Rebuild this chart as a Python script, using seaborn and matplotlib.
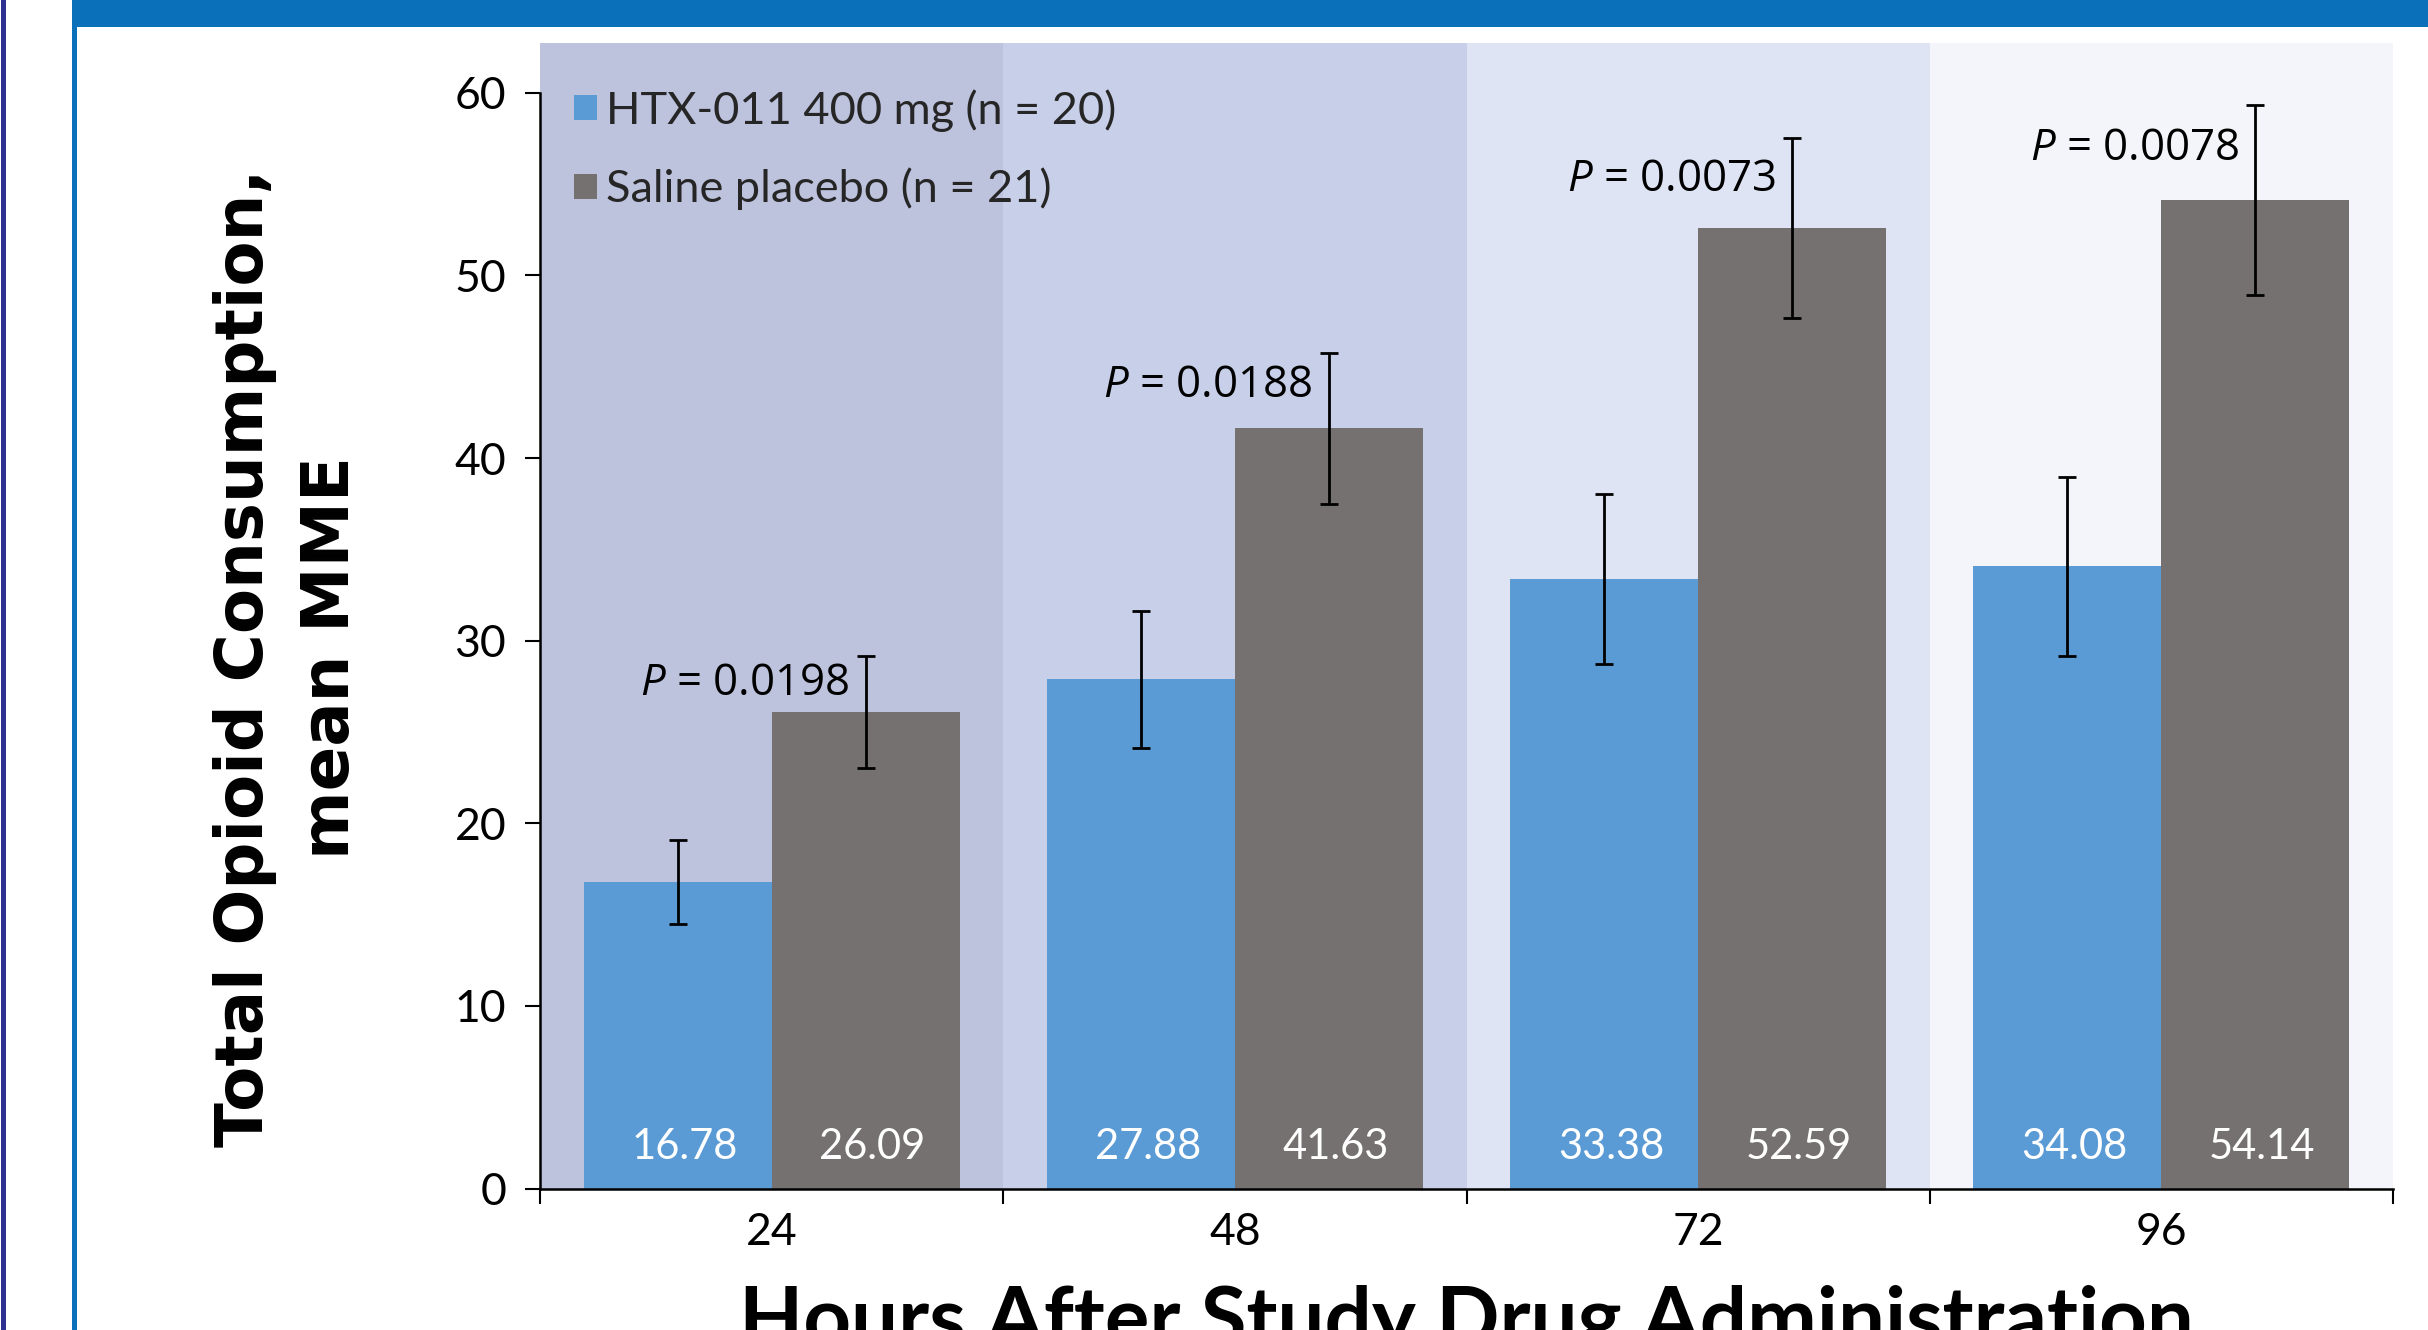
import numpy as np
import pandas as pd
import matplotlib
matplotlib.use("Agg")
import matplotlib.pyplot as plt
import seaborn as sns
from matplotlib.patches import Rectangle

# ---------------- data ----------------
hours = ["24", "48", "72", "96"]
groups = ["HTX-011 400 mg (n = 20)", "Saline placebo (n = 21)"]
htx_mean = [16.78, 27.88, 33.38, 34.08]
placebo_mean = [26.09, 41.63, 52.59, 54.14]
htx_err = [2.3, 3.76, 4.65, 4.9]
placebo_err = [3.05, 4.14, 4.93, 5.2]
p_values = ["0.0198", "0.0188", "0.0073", "0.0078"]
y_ticks = [0, 10, 20, 30, 40, 50, 60]

# ---------------- layout ----------------
p_text_y = [27.0, 43.34, 54.65, 56.3]   # baseline of the P labels (data units)
panel_colors = ["#bdc2dd", "#c8cfe8", "#dee4f3", "#f3f5fa"]
blue = "#5b9bd5"
gray = "#767171"

sns.set_theme(style="white")
plt.rcParams['font.family'] = ['Lato', 'DejaVu Sans']
plt.rcParams['mathtext.fontset'] = 'custom'
plt.rcParams['mathtext.it'] = 'Open Sans:italic'
plt.rcParams['mathtext.rm'] = 'Open Sans'

W, H = 2428, 1330
fig = plt.figure(figsize=(W / 100, H / 100), dpi=100)
fig.patch.set_facecolor("white")


def fx(px):
    return px / W


def fy(py):
    return 1 - py / H


ax_left, ax_right, ax_top, ax_bottom = 540, 2393, 43, 1188.5
ax = fig.add_axes([fx(ax_left), fy(ax_bottom), fx(ax_right - ax_left), (ax_bottom - ax_top) / H])
ax.set_facecolor("white")

df = pd.DataFrame({
    "Hours": hours * 2,
    "Group": [groups[0]] * len(hours) + [groups[1]] * len(hours),
    "Mean": htx_mean + placebo_mean,
})

for i, c in enumerate(panel_colors):
    ax.axvspan(i - 0.5, i + 0.5, color=c, lw=0, zorder=0)

sns.barplot(data=df, x="Hours", y="Mean", hue="Group", order=hours, hue_order=groups,
            palette=[blue, gray], width=0.812, errorbar=None, saturation=1,
            linewidth=0, ax=ax, zorder=2)

bar_containers = ax.containers[:2]
for cont, means, errs in zip(bar_containers, [htx_mean, placebo_mean], [htx_err, placebo_err]):
    xs = [r.get_x() + r.get_width() / 2 for r in cont.patches]
    ax.errorbar(xs, means, yerr=errs, fmt="none", ecolor="black", elinewidth=2,
                capsize=6.5, capthick=2, zorder=4)
    for x, v in zip(xs, means):
        ax.annotate(f"{v:.2f}", xy=(x, 0), xytext=(5, 21), textcoords="offset points",
                    ha="center", va="baseline", color="white", fontsize=30, zorder=5)

gray_xs = [r.get_x() + r.get_width() / 2 for r in bar_containers[1].patches]
for x, p, py in zip(gray_xs, p_values, p_text_y):
    ax.annotate(f"$P$ = {p}", xy=(x, py), xytext=(-12, 0), textcoords="offset points",
                ha="right", va="baseline", fontsize=31.5, family="Open Sans", color="black", zorder=5)

ax.set_xlim(-0.5, len(hours) - 0.5)
ax.set_ylim(0, 62.73)

for s in ["top", "right"]:
    ax.spines[s].set_visible(False)
ax.spines["left"].set_bounds(0, 60)
for s in ["left", "bottom"]:
    ax.spines[s].set_color("black")
    ax.spines[s].set_linewidth(1.8)
    ax.spines[s].set_zorder(6)

ax.set_yticks(y_ticks)
ax.set_yticklabels([str(t) for t in y_ticks])
ax.set_xticks(np.arange(len(hours) + 1) - 0.5)
ax.set_xticklabels([])
ax.set_xticks(np.arange(len(hours)), minor=True)
ax.set_xticklabels(hours, minor=True)
ax.tick_params(axis="y", which="major", left=True, direction="out", length=10.8, width=1.5,
               pad=13.5, labelsize=32, colors="black")
ax.tick_params(axis="x", which="major", bottom=True, direction="out", length=10.5, width=1.5,
               colors="black")
ax.tick_params(axis="x", which="minor", bottom=True, labelbottom=True, length=0, pad=17,
               labelsize=32, labelcolor="black")
ax.set_xlabel("")
ax.set_ylabel("")

handles, labels = ax.get_legend_handles_labels()
ax.legend(handles[:2], labels[:2], loc="upper left", bbox_to_anchor=(fx(574), fy(89)),
          bbox_transform=fig.transFigure, frameon=False, borderpad=0, borderaxespad=0,
          handlelength=0.5, handleheight=0.5, handletextpad=0.2, labelspacing=0.8,
          fontsize=32.5)

fig.text(fx(288), fy(658), "Total Opioid Consumption,\nmean MME", rotation=90,
         ha="center", va="center", multialignment="center", fontsize=47.3,
         fontweight="bold", family="DejaVu Sans", linespacing=1.45, color="black")

fig.text(fx(1466), fy(1345), "Hours After Study Drug Administration", ha="center",
         va="baseline", fontsize=60, fontweight="bold", family="Lato", color="black")

# page decorations
fig.add_artist(Rectangle((fx(1), 0), fx(5), 1, transform=fig.transFigure,
                         facecolor="#2e3192", edgecolor="none"))
fig.add_artist(Rectangle((fx(72), 0), fx(5), 1, transform=fig.transFigure,
                         facecolor="#0a70ba", edgecolor="none"))
fig.add_artist(Rectangle((fx(72), fy(27)), 1 - fx(72), 27 / H, transform=fig.transFigure,
                         facecolor="#0a70ba", edgecolor="none"))

fig.savefig("out.png", dpi=100)
